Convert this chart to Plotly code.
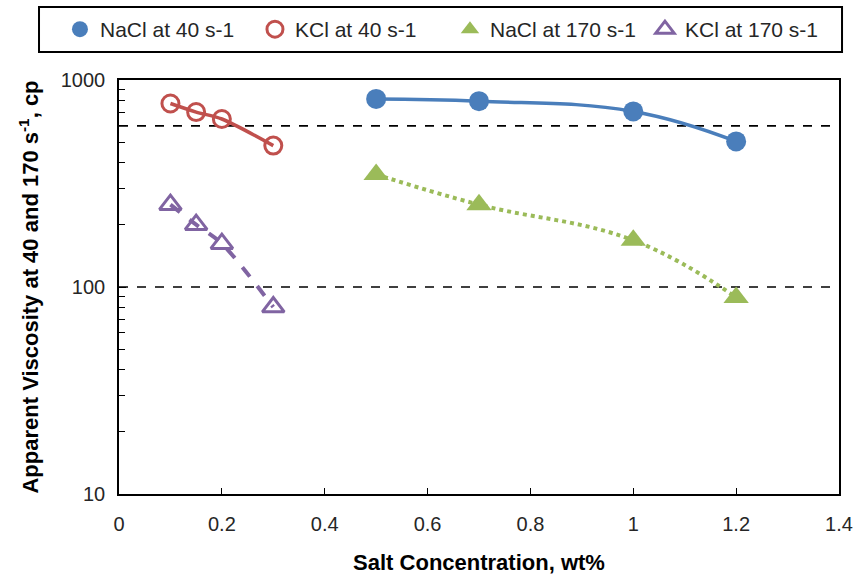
import plotly.graph_objects as go

# Salt concentration (wt%)
kcl_conc = [0.1, 0.15, 0.2, 0.3]
nacl_conc = [0.5, 0.7, 1.0, 1.2]

# Apparent viscosity (cp)
nacl_40 = [810, 790, 705, 505]
kcl_40 = [770, 700, 648, 482]
nacl_170 = [350, 250, 168, 89]
kcl_170 = [250, 200, 162, 80]

# Reference viscosity levels drawn as dashed guides
ref_levels = [600, 100]
x_span = [0, 1.4]

x_ticks = [0, 0.2, 0.4, 0.6, 0.8, 1.0, 1.2, 1.4]
x_tick_text = ["0", "0.2", "0.4", "0.6", "0.8", "1", "1.2", "1.4"]
y_ticks = [10, 100, 1000]
y_minor = [20, 30, 40, 50, 60, 70, 80, 90, 200, 300, 400, 500, 600, 700, 800, 900]

BLUE = "#4A7EBB"
RED = "#C0504D"
GREEN = "#9BBB59"
PURPLE = "#8064A2"
FONT = "Liberation Sans, Arial, sans-serif"
TXT = "#262626"

fig = go.Figure()

# dashed reference lines
for lvl in ref_levels:
    fig.add_trace(go.Scatter(x=x_span, y=[lvl, lvl], mode="lines",
                             line=dict(color="black", width=1.6, dash="dash"),
                             showlegend=False, hoverinfo="skip"))

# trend curves
fig.add_trace(go.Scatter(x=nacl_conc, y=nacl_40, mode="lines",
                         line=dict(color=BLUE, width=3.5, shape="spline", smoothing=1.2),
                         showlegend=False))
fig.add_trace(go.Scatter(x=kcl_conc, y=kcl_40, mode="lines",
                         line=dict(color=RED, width=3.5, shape="spline", smoothing=0.8),
                         showlegend=False))
fig.add_trace(go.Scatter(x=nacl_conc, y=nacl_170, mode="lines",
                         line=dict(color=GREEN, width=4, dash="dot", shape="spline", smoothing=1.2),
                         showlegend=False))
fig.add_trace(go.Scatter(x=kcl_conc, y=kcl_170, mode="lines",
                         line=dict(color=PURPLE, width=4, dash="dash", shape="spline", smoothing=0.8),
                         showlegend=False))

# data markers
fig.add_trace(go.Scatter(x=nacl_conc, y=nacl_40, mode="markers", name="NaCl at 40 s-1",
                         marker=dict(symbol="circle", size=20, color=BLUE)))
fig.add_trace(go.Scatter(x=kcl_conc, y=kcl_40, mode="markers", name="KCl at 40 s-1",
                         marker=dict(symbol="circle-open", size=17, color=RED,
                                     line=dict(width=3, color=RED))))
fig.add_trace(go.Scatter(x=nacl_conc, y=nacl_170, mode="markers", name="NaCl at 170 s-1",
                         marker=dict(symbol="triangle-up", size=22, color=GREEN)))
fig.add_trace(go.Scatter(x=kcl_conc, y=kcl_170, mode="markers", name="KCl at 170 s-1",
                         marker=dict(symbol="triangle-up-open", size=19, color=PURPLE,
                                     line=dict(width=3, color=PURPLE))))

# frame around the legend row
fig.add_shape(type="rect", xref="paper", yref="paper",
              x0=-0.1111, x1=1.0042, y0=1.0676, y1=1.1763,
              line=dict(color="black", width=2), fillcolor="rgba(0,0,0,0)", layer="above")

fig.update_layout(
    width=859, height=582,
    margin=dict(l=119, r=20, t=80, b=88, autoexpand=False),
    paper_bgcolor="white", plot_bgcolor="white",
    font=dict(family=FONT, size=20, color=TXT),
    showlegend=True,
    legend=dict(orientation="h", xref="paper", yref="paper",
                x=-0.082, y=1.122, xanchor="left", yanchor="middle",
                borderwidth=0, bgcolor="rgba(0,0,0,0)",
                entrywidth=150, font=dict(family=FONT, size=21, color=TXT),
                itemsizing="trace", itemwidth=30),
    xaxis=dict(range=[0, 1.4], tickvals=x_ticks, ticktext=x_tick_text,
               ticks="inside", ticklen=6, tickwidth=1.3, tickcolor="black",
               showline=True, linecolor="black", linewidth=1.6, mirror=True,
               showgrid=False, zeroline=False, ticklabelstandoff=11,
               title=dict(text="<b>Salt Concentration, wt%</b>", standoff=21,
                          font=dict(family=FONT, size=22, color="black"))),
    yaxis=dict(type="log", range=[1, 3], tickvals=y_ticks, ticktext=["10", "100", "1000"],
               ticks="inside", ticklen=7, tickwidth=1.3, tickcolor="black",
               minor=dict(tickvals=y_minor, ticks="inside", ticklen=6, tickwidth=1.3,
                          tickcolor="black", showgrid=False),
               showline=True, linecolor="black", linewidth=1.6, mirror=True,
               showgrid=False, zeroline=False, ticklabelstandoff=8,
               title=dict(text="<b>Apparent Viscosity at 40 and 170 s<sup>-1</sup>, cp</b>",
                          standoff=16,
                          font=dict(family=FONT, size=22, color="black"))),
)

fig.write_html("out.html")
